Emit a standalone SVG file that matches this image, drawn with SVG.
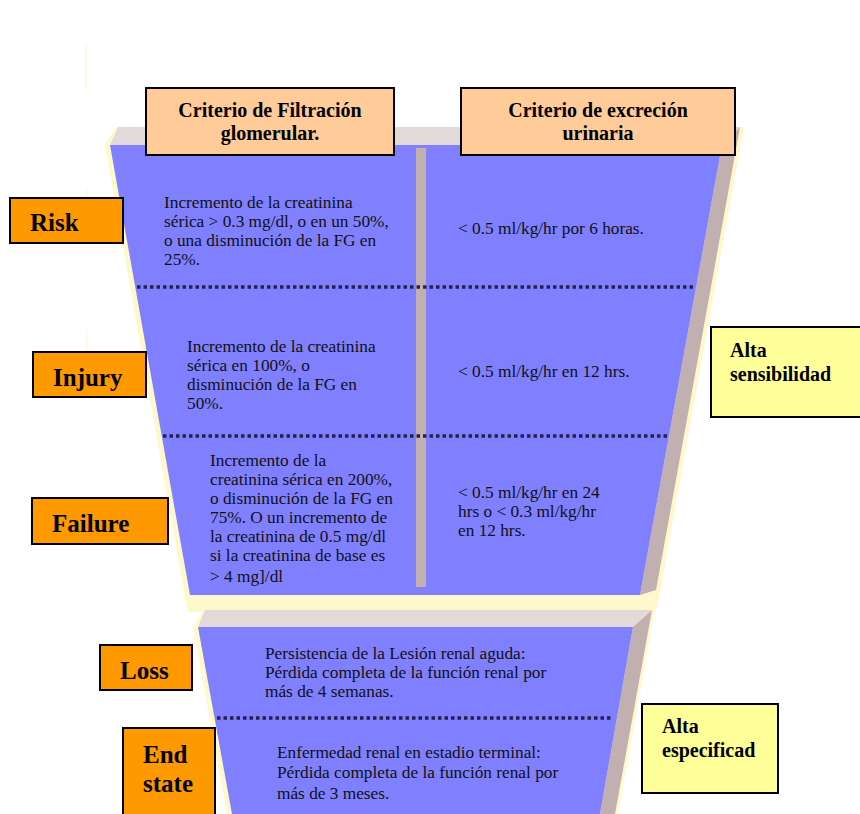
<svg xmlns="http://www.w3.org/2000/svg" width="860" height="814" viewBox="0 0 860 814">
<style>
.blue{fill:#8080ff}
.band{fill:#e2d9d9}
.bevel{fill:#c2b0b0}
.cream{fill:#fff8cc}
.dots{stroke:#22224a;stroke-width:3.5;stroke-dasharray:3.5 3;fill:none}
.hdr{fill:#ffcc99;stroke:#000;stroke-width:2}
.lbl{fill:#ff9900;stroke:#000;stroke-width:2}
.side{fill:#ffff99;stroke:#000;stroke-width:2}
.ht{font-family:"Liberation Serif",serif;font-weight:bold;font-size:20px;fill:#000;text-anchor:middle}
.lt{font-family:"Liberation Serif",serif;font-weight:bold;font-size:25px;fill:#000}
.st{font-family:"Liberation Serif",serif;font-weight:bold;font-size:20px;fill:#000}
.t{font-family:"Liberation Serif",serif;font-size:17.3px;fill:#111}
.faint{stroke:#fffbe0;stroke-width:2;fill:none}
</style>
<rect width="860" height="814" fill="#fff"/>
<g id="funnel-upper">
<path class="faint" d="M86 45 V90 M87 190 V230 M87 330 V380"/>
<polygon class="cream" points="105,145 116,127 744,127 660,592 656,612 188,612 185,597"/>
<polygon class="band" points="118,127 740,127 722,145 110,145"/>
<polygon class="bevel" points="722,145 740,127 656,590 640,595"/>
<polygon class="blue" points="110,145 722,145 640,595 190,595"/>
<rect class="bevel" x="416" y="148" width="10" height="439"/>
</g>
<g id="funnel-lower">
<polygon class="cream" points="193,627 204,609 655,609 618,814 227,814"/>
<polygon class="band" points="205,610 652,610 633,627 198,627"/>
<polygon class="bevel" points="633,627 652,610 615,814 600,814"/>
<polygon class="blue" points="198,627 633,627 600,814 232,814"/>
</g>
<g id="connectors">
<line class="dots" x1="137" y1="287" x2="695" y2="287"/>
<line class="dots" x1="163" y1="436" x2="667" y2="436"/>
<line class="dots" x1="217" y1="718" x2="611" y2="718"/>
</g>
<g id="header-fg">
<rect class="hdr" x="146" y="88" width="248" height="67"/>
<text class="ht" x="270" y="117">Criterio de Filtración</text>
<text class="ht" x="270" y="140">glomerular.</text>
</g>
<g id="header-eu">
<rect class="hdr" x="461" y="88" width="274" height="67"/>
<text class="ht" x="598" y="117">Criterio de excreción</text>
<text class="ht" x="598" y="140">urinaria</text>
</g>
<g id="risk">
<rect class="lbl" x="10" y="198" width="113" height="45"/>
<text class="lt" x="30" y="231">Risk</text>
<text class="t" x="164" y="208">Incremento de la creatinina</text>
<text class="t" x="164" y="227">sérica &gt; 0.3 mg/dl, o en un 50%,</text>
<text class="t" x="164" y="246">o una disminución de la FG en</text>
<text class="t" x="164" y="265">25%.</text>
<text class="t" x="458" y="234">&lt; 0.5 ml/kg/hr por 6 horas.</text>
</g>
<g id="injury">
<rect class="lbl" x="33" y="352" width="113" height="45"/>
<text class="lt" x="53" y="386">Injury</text>
<text class="t" x="187" y="352">Incremento de la creatinina</text>
<text class="t" x="187" y="371">sérica en 100%, o</text>
<text class="t" x="187" y="390">disminución de la FG en</text>
<text class="t" x="187" y="409">50%.</text>
<text class="t" x="458" y="377">&lt; 0.5 ml/kg/hr en 12 hrs.</text>
</g>
<g id="failure">
<rect class="lbl" x="32" y="498" width="136" height="46"/>
<text class="lt" x="52" y="532">Failure</text>
<text class="t" x="210" y="466">Incremento de la</text>
<text class="t" x="210" y="485">creatinina sérica en 200%,</text>
<text class="t" x="210" y="504">o disminución de la FG en</text>
<text class="t" x="210" y="523">75%. O un incremento de</text>
<text class="t" x="210" y="542">la creatinina de 0.5 mg/dl</text>
<text class="t" x="210" y="561">si la creatinina de base es</text>
<text class="t" x="210" y="582">&gt; 4 mg]/dl</text>
<text class="t" x="458" y="498">&lt; 0.5 ml/kg/hr en 24</text>
<text class="t" x="458" y="517">hrs o &lt; 0.3 ml/kg/hr</text>
<text class="t" x="458" y="536">en 12 hrs.</text>
</g>
<g id="loss">
<rect class="lbl" x="100" y="645" width="92" height="45"/>
<text class="lt" x="120" y="679">Loss</text>
<text class="t" x="265" y="659">Persistencia de la Lesión renal aguda:</text>
<text class="t" x="265" y="678">Pérdida completa de la función renal por</text>
<text class="t" x="265" y="697">más de 4 semanas.</text>
</g>
<g id="end-state">
<rect class="lbl" x="123" y="728" width="92" height="90"/>
<text class="lt" x="143" y="763">End</text>
<text class="lt" x="143" y="792">state</text>
<text class="t" x="277" y="758">Enfermedad renal en estadio terminal:</text>
<text class="t" x="277" y="778">Pérdida completa de la función renal por</text>
<text class="t" x="277" y="799">más de 3 meses.</text>
</g>
<g id="alta-sensibilidad">
<rect class="side" x="711" y="327" width="152" height="90"/>
<text class="st" x="730" y="357">Alta</text>
<text class="st" x="730" y="381">sensibilidad</text>
</g>
<g id="alta-especificad">
<rect class="side" x="642" y="704" width="136" height="89"/>
<text class="st" x="662" y="733">Alta</text>
<text class="st" x="662" y="757">especificad</text>
</g>
</svg>
